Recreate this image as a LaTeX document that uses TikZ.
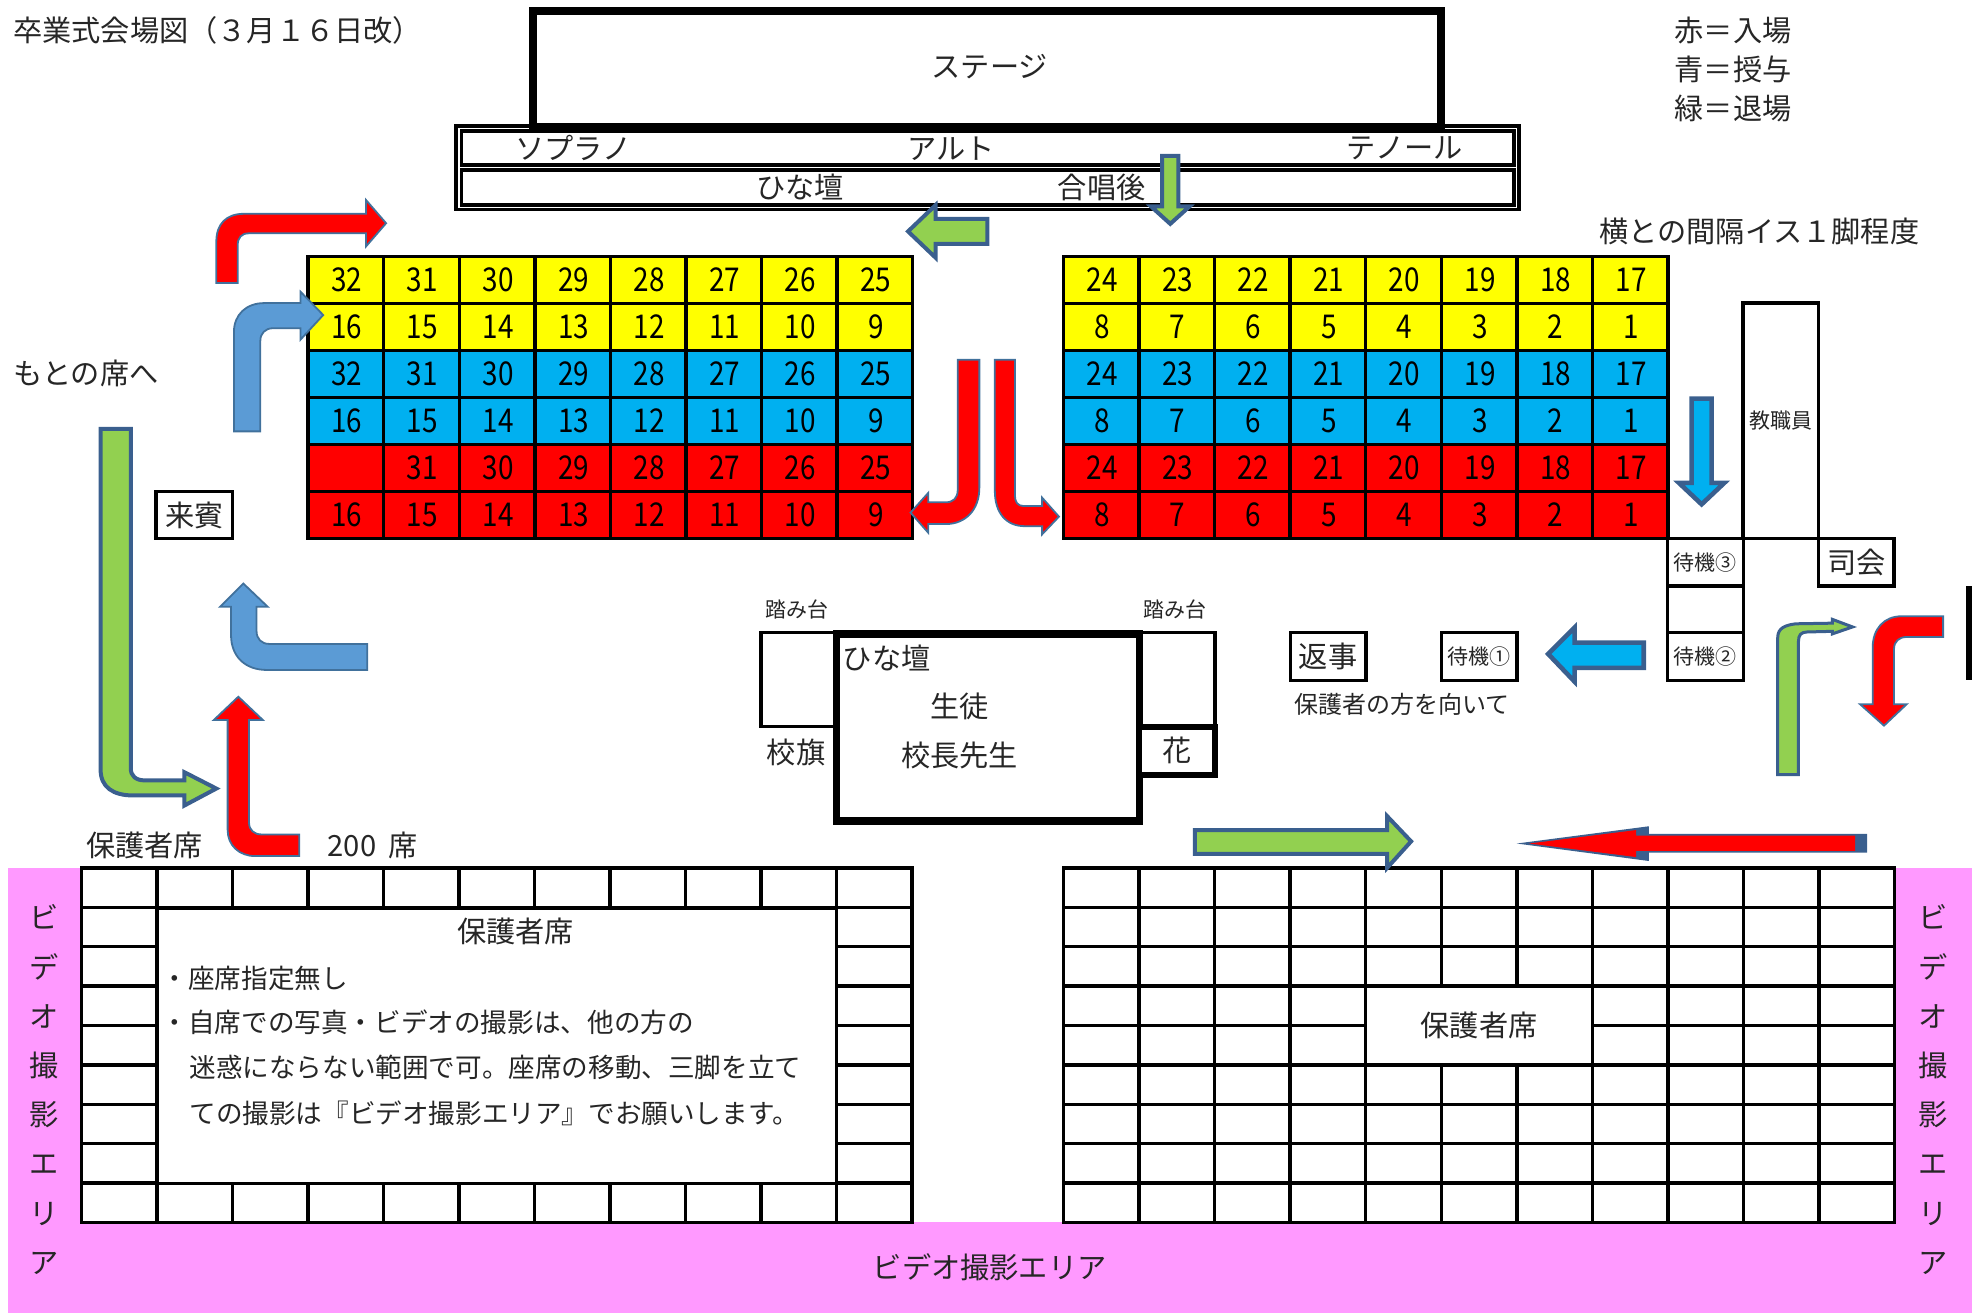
\documentclass[tikz,border=0pt]{standalone}
\usepackage{fontspec}
\setmainfont{Noto Sans CJK JP}
\newfontfamily\seatfont[FakeStretch=.85]{Noto Sans CJK JP}
\usetikzlibrary{positioning}
\definecolor{seatyellow}{HTML}{FFFF00}
\definecolor{seatblue}{HTML}{00B0F0}
\definecolor{seatred}{HTML}{FF0000}
\definecolor{videopink}{HTML}{FF99FF}
\definecolor{arrowblue}{HTML}{5B9BD5}
\definecolor{arrowgreen}{HTML}{92D050}
\definecolor{rimthin}{HTML}{41719C}
\definecolor{rimthick}{HTML}{3A5F8E}
\definecolor{inkgray}{HTML}{262626}
\tikzset{
	txt/.style={text=inkgray,inner sep=0pt,font=\fontsize{14.6}{17}\selectfont},
	txtmid/.style={txt,font=\fontsize{13.3}{16}\selectfont},
	txtsub/.style={txt,font=\fontsize{12}{14}\selectfont},
	txtsmall/.style={txt,font=\fontsize{10.5}{12}\selectfont},
	seat/.style={draw=black,line width=1.7pt,minimum width=37.8pt,minimum height=23.5pt,inner sep=0pt,text=black,font=\seatfont\fontsize{16.4}{18}\selectfont},
	parentseat/.style={draw=black,line width=1.7pt,minimum width=37.8pt,minimum height=19.7pt,inner sep=0pt},
	whitebox/.style={draw=black,fill=white,line width=1.7pt,inner sep=0pt},
	redarrow/.style={draw=rimthin,fill=seatred,line width=.9pt},
	bluearrow/.style={draw=rimthin,fill=arrowblue,line width=.9pt},
	greenarrow/.style={draw=rimthick,fill=arrowgreen,line width=2pt},
	cyanarrow/.style={draw=rimthick,fill=seatblue,line width=2.3pt}
}
\begin{document}
\begin{tikzpicture}
[x=.6288pt, y=-.6288pt, thick]
\useasboundingbox (0,0) rectangle (1568,1044);
\fill[videopink] (6,690) rectangle (66,1044);
\fill[videopink] (6,972) rectangle (1568,1044);
\fill[videopink] (1506,690) rectangle (1568,1044);
\fill[black] (1563,466) rectangle (1568,541);
\node[txt,anchor=west] (title) at (10,24) {卒業式会場図（３月１６日改）};
\node[txt,anchor=west] (legendred) at (1331,24) {赤＝入場};
\node[txt,anchor=west] (legendblue) at (1331,55) {青＝授与};
\node[txt,anchor=west] (legendgreen) at (1331,86) {緑＝退場};
\node[txt,anchor=west] (spacing) at (1271,184) {横との間隔イス１脚程度};
\node[txt,anchor=west] (backseat) at (10,297) {もとの席へ};
\draw[black,line width=1.8pt] (362.5,100) rectangle (1208,166.5);
\draw[black,line width=1.8pt] (367,104) rectangle (1204,131);
\draw[black,line width=1.8pt] (367,135) rectangle (1204,163);
\node[draw=black,fill=white,line width=4pt,minimum width=454pt,minimum height=58pt] (stage) at (785,55) {};
\node[txt] (stagetext) at (787,53) {ステージ};
\node[txt] (soprano) at (456,118) {ソプラノ};
\node[txt] (alto) at (756,118) {アルト};
\node[txt] (tenor) at (1117,118) {テノール};
\node[txt] (risers) at (636,149) {ひな壇};
\node[txt] (afterchoir) at (876,149) {合唱後};
\foreach \r/\c/\m in {0/seatyellow/32,1/seatyellow/16,2/seatblue/32,3/seatblue/16,4/seatred/32,5/seatred/16} {
\foreach \i in {0,...,7} {
\pgfmathtruncatemacro\n{\m-\i}
\pgfmathtruncatemacro\o{\m-8-\i}
\def\seatno{\n}
\ifnum\r\n=432 \def\seatno{}\fi
\node[seat,fill=\c] (L\r-\i) at (275+60.1*\i,222.7+37.33*\r) {\hspace{1pt}\seatno};
\node[seat,fill=\c] (R\r-\i) at (875.5+60.1*\i,222.7+37.33*\r) {\hspace{1pt}\o};
}
}
\foreach \r in {0,...,8} {
\foreach \i in {0,...,10} {
\node[parentseat] (PL\r-\i) at (95+60*\i,705.7+31.33*\r) {};
\node[parentseat] (PR\r-\i) at (875.5+60.1*\i,705.7+31.33*\r) {};
}
}
\node[whitebox,minimum width=339.6pt,minimum height=137.7pt] (parentsL) at (395,831.5) {};
\node[whitebox,minimum width=113.4pt,minimum height=39.5pt] (parentsR) at (1176,815.5) {};
\node[txt] (parentsRtext) at (1176,815) {保護者席};
\node[txt] (parentsLtext) at (410,741) {保護者席};
\node[txtmid,anchor=west] (note1) at (128,778) {・座席指定無し};
\node[txtmid,anchor=west] (note2) at (128,813) {・自席での写真・ビデオの撮影は、他の方の};
\node[txtmid,anchor=west] (note3) at (150,849) {迷惑にならない範囲で可。座席の移動、三脚を立て};
\node[txtmid,anchor=west] (note4) at (150,885) {ての撮影は『ビデオ撮影エリア』でお願いします。};
\node[txt] (parentshead) at (115,672) {保護者席};
\node[txt] (parentscount) at (296.5,672) {200\hspace{3pt} 席};
\foreach \t [count=\i] in {ビ,デ,オ,撮,影,エ,リ,ア} {
\node[txt] (videoL\i) at (35,690+39.3*\i) {\t};
\node[txt] (videoR\i) at (1537,690+39.3*\i) {\t};
}
\node[txt] (videobottom) at (787,1008) {ビデオ撮影エリア};
\node[whitebox,minimum width=38.4pt,minimum height=23.3pt,txt,text=inkgray,line width=1.7pt] (guest) at (154.5,409.5) {来賓};
\node[whitebox,minimum width=37.8pt,minimum height=47pt] (stepL) at (635,540.5) {};
\node[whitebox,minimum width=37.8pt,minimum height=47pt] (stepR) at (936,540.5) {};
\node[txtsmall] (stepLtext) at (634,485) {踏み台};
\node[txtsmall] (stepRtext) at (934,485) {踏み台};
\node[draw=black,fill=white,line width=3.8pt,minimum width=151.5pt,minimum height=93.7pt] (podium) at (785.5,578.5) {};
\node[draw=black,fill=white,line width=2.8pt,minimum width=37.8pt,minimum height=23.9pt,txt,text=inkgray] (flower) at (936,597) {花};
\node[txt] (flag) at (633,598) {校旗};
\node[txt] (podiumrisers) at (705,523) {ひな壇};
\node[txt] (pupil) at (763,562) {生徒};
\node[txt] (principal) at (763,601) {校長先生};
\node[whitebox,minimum width=37.8pt,minimum height=23.9pt,txt,text=inkgray,line width=1.7pt] (reply) at (1056,522) {返事};
\node[whitebox,minimum width=37.8pt,minimum height=23.9pt,txtsmall,text=inkgray,line width=1.7pt] (wait1) at (1176,522) {待機①};
\node[txtsub] (facing) at (1115,560) {保護者の方を向いて};
\node[whitebox,minimum width=37.8pt,minimum height=117.6pt,txtsmall,text=inkgray,line width=1.7pt] (staff) at (1416,334.5) {教職員};
\node[whitebox,minimum width=37.8pt,minimum height=23.9pt,txtsmall,text=inkgray,line width=1.7pt] (wait3) at (1356,447) {待機③};
\node[whitebox,minimum width=37.8pt,minimum height=23.3pt] (waitgap) at (1356,484.5) {};
\node[whitebox,minimum width=37.8pt,minimum height=23.9pt,txtsmall,text=inkgray,line width=1.7pt] (wait2) at (1356,522) {待機②};
\node[whitebox,minimum width=37.8pt,minimum height=23.9pt,txt,text=inkgray,line width=1.7pt] (host) at (1476,447) {司会};
\draw[redarrow] (172,225) -- (172,192) .. controls (172,178) and (180,170) .. (194,170) -- (291,170) -- (291,159) -- (307,177.5) -- (291,196) -- (291,185.5) -- (198,185.5) .. controls (192,185.5) and (189,189) .. (189,195) -- (189,225) -- cycle;
\draw[bluearrow] (186,343) -- (186,264) .. controls (186,250) and (196,241) .. (210,241) -- (239,241) -- (239,232) -- (257,250.5) -- (239,270) -- (239,261) -- (217,261) .. controls (211,261) and (207,265) .. (207,271) -- (207,343) -- cycle;
\draw[greenarrow] (80,341) -- (80,612) .. controls (80,626) and (90,632.5) .. (106,632.5) -- (146.6,632.5) -- (146.6,640.5) -- (172,627) -- (146.6,614) -- (146.6,620.5) -- (115,620.5) .. controls (108,620.5) and (104,617) .. (104,611) -- (104,341) -- cycle;
\draw[bluearrow] (292,512) -- (214,512) .. controls (208,512) and (204,508) .. (204,502) -- (204,482.4) -- (212.8,482.4) -- (193.5,464) -- (175,482.4) -- (183.7,482.4) -- (183.7,505) .. controls (183.7,522) and (195,532.7) .. (212,532.7) -- (292,532.7) -- cycle;
\draw[redarrow] (238,663.5) -- (208,663.5) .. controls (202,663.5) and (198,660) .. (198,654) -- (198,572.5) -- (209,572.5) -- (189.5,554) -- (170,572.5) -- (181,572.5) -- (181,660) .. controls (181,672) and (190,680.7) .. (203,680.7) -- (238,680.7) -- cycle;
\draw[redarrow] (761.5,286) -- (761.5,389.6) .. controls (761.5,396) and (758,399.4) .. (752,399.4) -- (738,399.4) -- (738,392) -- (724,407.6) -- (738,423.5) -- (738,416.7) -- (752,416.7) .. controls (768,416.7) and (778.7,405) .. (778.7,388) -- (778.7,286) -- cycle;
\draw[redarrow] (791,286) -- (791,390) .. controls (791,408) and (800,418.4) .. (815,418.4) -- (828.6,418.4) -- (828.6,424.9) -- (842,410.8) -- (828.6,395.7) -- (828.6,402.4) -- (814,402.4) .. controls (809,402.4) and (807,399) .. (807,394) -- (807,286) -- cycle;
\draw[greenarrow] (924,124) -- (937,124) -- (937,164) -- (946,164) -- (930.5,178) -- (915,164) -- (924,164) -- cycle;
\draw[greenarrow] (785,174) -- (785,194) -- (744,194) -- (744,205) -- (722,184) -- (744,163) -- (744,174) -- cycle;
\draw[cyanarrow] (1345,317) -- (1361,317) -- (1361,384) -- (1371,384) -- (1353,401) -- (1335,384) -- (1345,384) -- cycle;
\draw[cyanarrow] (1307,511) -- (1307,531) -- (1252,531) -- (1252,542) -- (1231,520) -- (1252,499) -- (1252,511) -- cycle;
\draw[draw=rimthick,fill=arrowgreen,line width=1.5pt] (1413.5,616) -- (1413.5,507) .. controls (1413.5,499) and (1420,497) .. (1428,496) -- (1457,495.5) -- (1457,492.5) -- (1473,498.5) -- (1457,504) -- (1457,502) -- (1437,502.5) .. controls (1432,502.5) and (1430,505) .. (1430,510) -- (1430,616) -- cycle;
\draw[redarrow] (1545,490) -- (1512,490) .. controls (1498,490) and (1489,500) .. (1489,515) -- (1489,560) -- (1479,560) -- (1498,577) -- (1516,560) -- (1506,560) -- (1506,516) .. controls (1506,510) and (1510,506.5) .. (1516,506.5) -- (1545,506.5) -- cycle;
\draw[greenarrow] (950,660) -- (1103,660) -- (1103,649) -- (1122,669) -- (1103,690) -- (1103,679) -- (950,679) -- cycle;
\fill[rimthick] (1206,670.7) -- (1311,657) -- (1311,663) -- (1484.5,663) -- (1484.5,678) -- (1311,678) -- (1311,684.6) -- cycle;
\fill[seatred] (1216,670.7) -- (1301,660) -- (1301,664.5) -- (1475,664.5) -- (1475,676.5) -- (1301,676.5) -- (1301,681.5) -- cycle;
\end{tikzpicture}
\end{document}
